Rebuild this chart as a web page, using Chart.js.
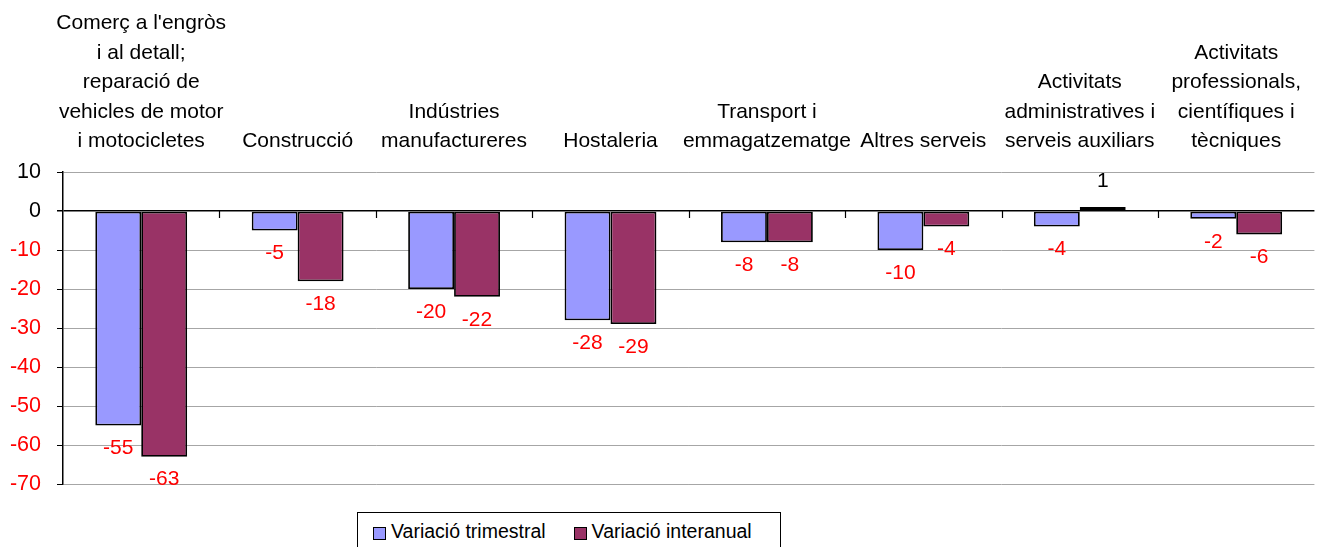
<!DOCTYPE html>
<html>
<head>
<meta charset="utf-8">
<script src="https://cdn.jsdelivr.net/npm/chart.js@4.4.1/dist/chart.umd.min.js"></script>
<style>
  body { margin: 0; background: #fff; font-family: 'Liberation Sans', Arial, sans-serif; }
  #wrap { position: relative; width: 1317px; height: 547px; overflow: hidden; }
  #legend {
    position: absolute; left: 357px; top: 512px; width: 424px; height: 44px;
    border: 1px solid #000; background: #fff; box-sizing: border-box;
    font-size: 19.5px; color: #000; display: flex; align-items: flex-start; padding: 7px 0 0 15px;
  }
  #legend .item { display: flex; align-items: center; margin-right: 28px; }
  #legend .box { width: 11px; height: 11px; border: 1px solid #000; margin-right: 5px; margin-top: 3px; }
</style>
</head>
<body>
<div id="wrap">
  <canvas id="chart" width="1317" height="547"></canvas>
  <div id="legend"></div>
</div>
<script>
  // Categories and values
  const categories = [
    ['Comerç a l\'engròs', 'i al detall;', 'reparació de', 'vehicles de motor', 'i motocicletes'],
    ['Construcció'],
    ['Indústries', 'manufactureres'],
    ['Hostaleria'],
    ['Transport i', 'emmagatzematge'],
    ['Altres serveis'],
    ['Activitats', 'administratives i', 'serveis auxiliars'],
    ['Activitats', 'professionals,', 'científiques i', 'tècniques'],
  ];
  const trimestral = [-55, -5, -20, -28, -8, -10, -4, -2];
  const interanual = [-63, -18, -22, -29, -8, -4, 1, -6];
  const seriesNames = ['Variació trimestral', 'Variació interanual'];
  const seriesColors = ['#9999ff', '#993366'];

  const FONT = "'Liberation Sans', Arial, sans-serif";

  // value labels under / above each bar
  const valueLabels = {
    id: 'valueLabels',
    afterDatasetsDraw(chart) {
      const ctx = chart.ctx;
      ctx.save();
      ctx.font = '21px ' + FONT;
      ctx.textAlign = 'center';
      ctx.textBaseline = 'middle';
      chart.data.datasets.forEach((ds, i) => {
        chart.getDatasetMeta(i).data.forEach((bar, j) => {
          const v = ds.data[j];
          if (v < 0) {
            ctx.fillStyle = '#ff0000';
            ctx.fillText(String(v), bar.x, bar.y + 23);
          } else {
            ctx.fillStyle = '#000000';
            ctx.fillText(String(v), bar.x, bar.y - 26);
          }
        });
      });
      ctx.restore();
    }
  };

  // small category separator ticks on the zero line
  const zeroTicks = {
    id: 'zeroTicks',
    afterDatasetsDraw(chart) {
      const x = chart.scales.x, y = chart.scales.y;
      const y0 = y.getPixelForValue(0);
      const n = categories.length;
      const ctx = chart.ctx;
      ctx.save();
      ctx.strokeStyle = '#000';
      ctx.lineWidth = 1.2;
      for (let i = 1; i < n; i++) {
        const px = Math.round(x.left + i * x.width / n) + 0.5;
        ctx.beginPath();
        ctx.moveTo(px, y0);
        ctx.lineTo(px, y0 + 7);
        ctx.stroke();
      }
      ctx.restore();
    }
  };

  const chart = new Chart(document.getElementById('chart'), {
    type: 'bar',
    data: {
      labels: categories,
      datasets: [
        {
          label: seriesNames[0],
          data: trimestral,
          backgroundColor: seriesColors[0],
          borderColor: '#000',
          borderWidth: 1.8,
          borderSkipped: false,
        },
        {
          label: seriesNames[1],
          data: interanual,
          backgroundColor: seriesColors[1],
          borderColor: '#000',
          borderWidth: 1.8,
          borderSkipped: false,
        },
      ],
    },
    options: {
      responsive: false,
      animation: false,
      layout: { padding: { left: 0, right: 0, top: 0, bottom: 63 } },
      datasets: { bar: { categoryPercentage: 0.587, barPercentage: 1 } },
      plugins: {
        legend: { display: false },
        tooltip: { enabled: false },
      },
      scales: {
        x: {
          position: 'top',
          grid: { display: false, drawTicks: false },
          border: { display: false },
          ticks: {
            autoSkip: false,
            maxRotation: 0,
            minRotation: 0,
            padding: 16,
            color: '#000',
            font: { family: FONT, size: 21, lineHeight: 1.405 },
          },
          afterFit(s) { s.height = 172; },
        },
        y: {
          min: -70,
          max: 10,
          ticks: {
            stepSize: 10,
            padding: 16,
            color: (c) => (c.tick.value < 0 ? '#ff0000' : '#000000'),
            font: { family: FONT, size: 21.5 },
          },
          grid: {
            color: (c) => (c.tick.value === 0 ? '#000000' : '#a6a6a6'),
            lineWidth: (c) => (c.tick.value === 0 ? 1.5 : 1),
            tickColor: '#000',
            tickLength: 6,
          },
          border: { color: '#000', width: 1.5 },
          afterFit(s) { s.width = 63; },
        },
      },
    },
    plugins: [valueLabels, zeroTicks],
  });

  // HTML legend built from the chart's datasets
  const legendEl = document.getElementById('legend');
  chart.data.datasets.forEach((ds) => {
    const item = document.createElement('div');
    item.className = 'item';
    const box = document.createElement('span');
    box.className = 'box';
    box.style.background = ds.backgroundColor;
    const txt = document.createElement('span');
    txt.textContent = ds.label;
    item.appendChild(box);
    item.appendChild(txt);
    legendEl.appendChild(item);
  });
</script>
</body>
</html>
